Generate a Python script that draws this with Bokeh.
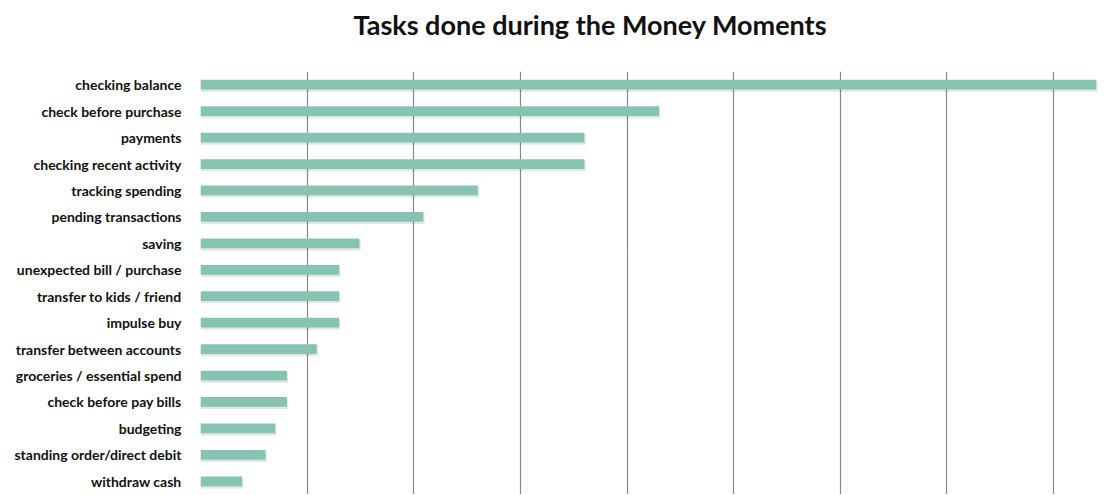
from bokeh.plotting import figure
from bokeh.models import ColumnDataSource, FactorRange, FixedTicker, Div
from bokeh.layouts import column
from bokeh.transform import dodge
from bokeh.embed import file_html
from bokeh.resources import INLINE

title_text = "Tasks done during the Money Moments"
tasks = [
    "checking balance",
    "check before purchase",
    "payments",
    "checking recent activity",
    "tracking spending",
    "pending transactions",
    "saving",
    "unexpected bill / purchase",
    "transfer to kids / friend",
    "impulse buy",
    "transfer between accounts",
    "groceries / essential spend",
    "check before pay bills",
    "budgeting",
    "standing order/direct debit",
    "withdraw cash",
]
counts = [42.0, 21.5, 18.0, 18.0, 13.0, 10.45, 7.45, 6.5, 6.5, 6.5, 5.45, 4.05, 4.05, 3.5, 3.05, 1.95]
grid_ticks = [0, 5, 10, 15, 20, 25, 30, 35, 40]

src = ColumnDataSource(dict(task=tasks, count=counts,
                            shadow=[c + 0.06 for c in counts]))

p = figure(width=1102, height=423, output_backend="svg", toolbar_location=None,
           y_range=FactorRange(factors=list(reversed(tasks)), range_padding=0),
           x_range=(0, 42.2),
           min_border_left=200, min_border_right=2, min_border_top=0, min_border_bottom=0)

# shadow
p.hbar(y=dodge("task", -0.07, range=p.y_range), right="shadow", left=0, height=0.40,
       source=src, fill_color="#000000", fill_alpha=0.10, line_color=None)
p.hbar(y="task", right="count", left=0, height=0.37, source=src,
       fill_color="#86c3b3", line_color=None)

p.xaxis.visible = False
p.xgrid.ticker = FixedTicker(ticks=grid_ticks)
p.xgrid.grid_line_color = "#888888"
p.xgrid.grid_line_width = 1.2
p.ygrid.grid_line_color = None

p.yaxis.axis_line_color = None
p.yaxis.major_tick_line_color = None
p.yaxis.minor_tick_line_color = None
p.yaxis.major_label_standoff = 13
p.yaxis.major_label_text_font = "Lato"
p.yaxis.major_label_text_font_style = "bold"
p.yaxis.major_label_text_font_size = "14px"
p.yaxis.major_label_text_color = "#111111"

p.outline_line_color = None
p.background_fill_color = "white"
p.border_fill_color = "white"

title = Div(
    text=('<div style="font-family: Lato; font-weight: bold; font-size: 27px; '
          'line-height: 32px; color: #111111; margin: 9px 0 0 78px; width: 1024px; '
          'text-align: center; white-space: nowrap;">' + title_text + '</div>'),
    width=1102, height=71, margin=0)

layout = column(title, p, spacing=0)

open("out.html", "w").write(file_html(layout, INLINE))
